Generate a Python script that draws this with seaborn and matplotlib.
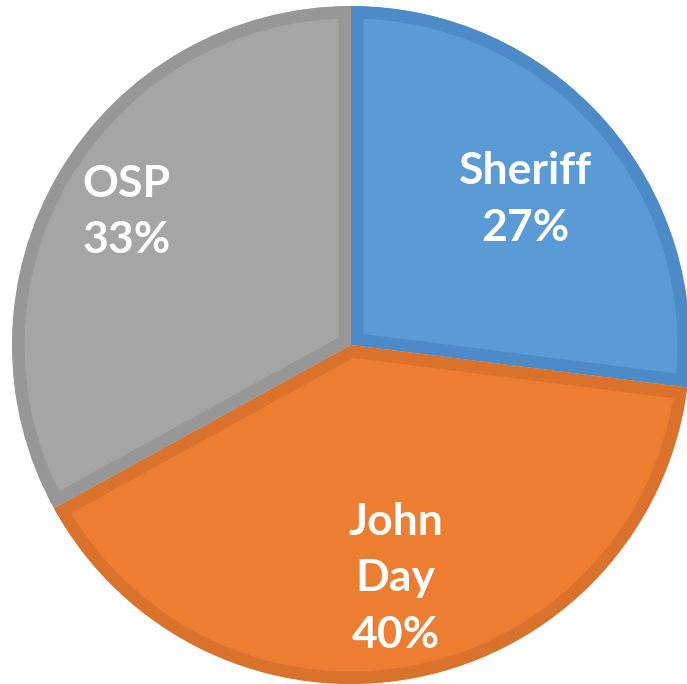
import matplotlib
matplotlib.use("Agg")
import matplotlib.pyplot as plt
import seaborn as sns
import numpy as np

categories = ["Sheriff", "John\nDay", "OSP"]
shares = [27, 40, 33]
colors = ["#5B9BD5", "#ED7D31", "#A5A5A5"]
edge_colors = ["#4C8BC8", "#DA722B", "#979797"]
label_dist = [0.67, 0.70, 0.77]
label_angle_shift = [-1.5, 0.0, 0.0]

sns.set_theme(style="white")
plt.rcParams['font.family'] = ['Lato', 'DejaVu Sans']

fig = plt.figure(figsize=(6.87, 6.84), dpi=100)
ax = fig.add_axes([12/687, 0/684, 678/687, 678/684])

wedges, _ = ax.pie(shares, colors=colors, startangle=90, counterclock=False,
                   radius=1.0, wedgeprops=dict(linewidth=0))
for w, ec in zip(wedges, edge_colors):
    w.set_edgecolor(ec)
    w.set_linewidth(18)
    w.set_clip_on(True)
    w.set_clip_path(w.get_path(), w.get_transform())

for w, cat, s, d, da in zip(wedges, categories, shares, label_dist, label_angle_shift):
    ang = np.deg2rad((w.theta1 + w.theta2) / 2 + da)
    ax.text(d * np.cos(ang), d * np.sin(ang), f"{cat}\n{s}%", ha="center", va="center",
            color="white", fontsize=32, fontweight="bold", linespacing=1.5)

ax.set_xlim(-1.0, 1.0)
ax.set_ylim(-1.0, 1.0)
ax.set_aspect("equal")
ax.axis("off")
fig.savefig("out.png", dpi=100, facecolor="white")
